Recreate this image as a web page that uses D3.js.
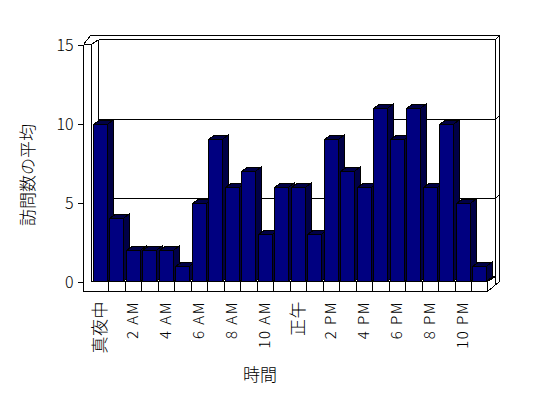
<!DOCTYPE html>
<html><head><meta charset="utf-8">
<script src="https://cdn.jsdelivr.net/npm/d3@7/dist/d3.min.js"></script>
<style>
html,body{margin:0;padding:0;background:#fff;}
svg{display:block;}
text{font-family:"Noto Sans CJK JP","Noto Sans",sans-serif;fill:#000;font-weight:300;}
</style></head>
<body><svg id="c" width="548" height="398"></svg>
<script>
const categories = ["真夜中","1 AM","2 AM","3 AM","4 AM","5 AM","6 AM","7 AM","8 AM","9 AM","10 AM","11 AM",
  "正午","1 PM","2 PM","3 PM","4 PM","5 PM","6 PM","7 PM","8 PM","9 PM","10 PM","11 PM"];
const values = [10,4,2,2,2,1,5,9,6,7,3,6,6,3,9,7,6,11,9,11,6,10,5,1];
const shownLabels = ["真夜中","2 AM","4 AM","6 AM","8 AM","10 AM","正午","2 PM","4 PM","6 PM","8 PM","10 PM"];
const yTicks = [0,5,10,15];
const yTitle = "訪問数の平均";
const xTitle = "時間";

const svg = d3.select("#c");
const x = d3.scaleBand().domain(categories).range([91.5, 487.5]).paddingInner(0).paddingOuter(0);
const y = d3.scaleLinear().domain([0, 15]).range([281.5, 44.5]);
const D = {dx: 7, dy: -5};      // wall depth
const B = {dx: 6.5, dy: -4.5};  // bar depth
const barW = 13.5;
const shadeFill = "#000046";

const g = svg.append("g").attr("shape-rendering","crispEdges");
const line = (pts) => g.append("path").attr("d", d3.line()(pts)).attr("fill","none")
  .attr("stroke","#000").attr("stroke-width",1);

const L0 = x.range()[0], R0 = x.range()[1];
const outerL = 83.5, bottom = 291.5;
const backL = L0 + D.dx, backR = 495.5, outerR = 499.5;
const topBack = y(15) + D.dy, topOuter = 35.5;

// back wall gridlines
[5,10].forEach(v => {
  const yy = Math.round(y(v) + D.dy) + 0.5;
  line([[backL, yy],[backR, yy]]);
  line([[backR, yy],[outerR, yy-4]]);
});
line([[backL, y(0)+D.dy],[backR, y(0)+D.dy]]);
line([[backL, topBack],[backL, y(0)+D.dy]]);
line([[backL, topBack],[backR, topBack]]);
line([[90.5, topOuter],[outerR, topOuter]]);
line([[backR, topBack],[outerR, topOuter]]);
line([[backR, topBack],[backR, 284.5]]);
line([[outerR, topOuter],[outerR, 281.5]]);
line([[R0, bottom],[outerR, 281.5]]);
line([[R0, y(0)],[backR, y(0)+D.dy]]);
line([[outerL, y(15)],[outerL, bottom]]);
line([[L0, y(15)],[L0, y(0)]]);
line([[outerL, y(15)],[L0, y(15)]]);
line([[outerL, y(15)],[90.5, topOuter]]);
line([[L0, y(15)],[backL, topBack]]);
line([[outerL, bottom],[R0, bottom]]);
line([[L0, y(0)],[R0, y(0)]]);
line([[R0, y(0)],[R0, bottom]]);
categories.slice(1).forEach(c => line([[Math.round(x(c))+0.5, y(0)],[Math.round(x(c))+0.5, bottom]]));

// bars
const bars = g.append("g");
categories.forEach((c, i) => {
  const v = values[i];
  const x0 = Math.round(x(c)) + 1.5, x1 = x0 + barW;
  const y0 = Math.round(y(v)) + 0.5, y1 = y(0);
  const bg = bars.append("g");
  bg.append("path").attr("d", d3.line()([[x1,y0],[x1+B.dx,y0+B.dy],[x1+B.dx,y1+B.dy],[x1,y1]]) + "Z")
    .attr("fill",shadeFill).attr("stroke","#000");
  bg.append("path").attr("d", d3.line()([[x0,y0],[x0+B.dx,y0+B.dy],[x1+B.dx,y0+B.dy],[x1,y0]]) + "Z")
    .attr("fill",shadeFill).attr("stroke","#000");
  bg.append("rect").attr("x",x0).attr("y",y0).attr("width",barW).attr("height",y1-y0)
    .attr("fill","#000080").attr("stroke","#000");
});

// y axis
const ya = svg.append("g").attr("transform",`translate(${outerL},0)`)
  .call(d3.axisLeft(y).tickValues(yTicks).tickSize(6).tickPadding(4).tickFormat(d3.format("d")));
ya.select(".domain").remove();
ya.selectAll("line").attr("stroke","#000").attr("shape-rendering","crispEdges");
ya.selectAll("text").attr("font-size",16).attr("font-family",'"Noto Sans CJK JP",sans-serif')
  .attr("font-weight",300).attr("dy","0.35em").attr("fill","#000");

// x labels
const isCJK = d => /[^\x00-\x7f]/.test(d);
svg.append("g").selectAll("text").data(shownLabels).join("text")
  .attr("transform", d => `translate(${x(d) + x.bandwidth()/2},301) rotate(-90)`)
  .attr("text-anchor","end").attr("dy","0.35em")
  .attr("font-size", d => isCJK(d) ? 17 : 15)
  .attr("letter-spacing", d => isCJK(d) ? 0.5 : 1.5)
  .attr("fill","#000")
  .text(d => d);

// titles
svg.append("text").attr("transform","translate(28,175) rotate(-90)").attr("text-anchor","middle")
  .attr("dy","0.35em").attr("font-size",17).text(yTitle);
svg.append("text").attr("x",260).attr("y",381).attr("text-anchor","middle").attr("font-size",17).text(xTitle);
</script></body></html>
